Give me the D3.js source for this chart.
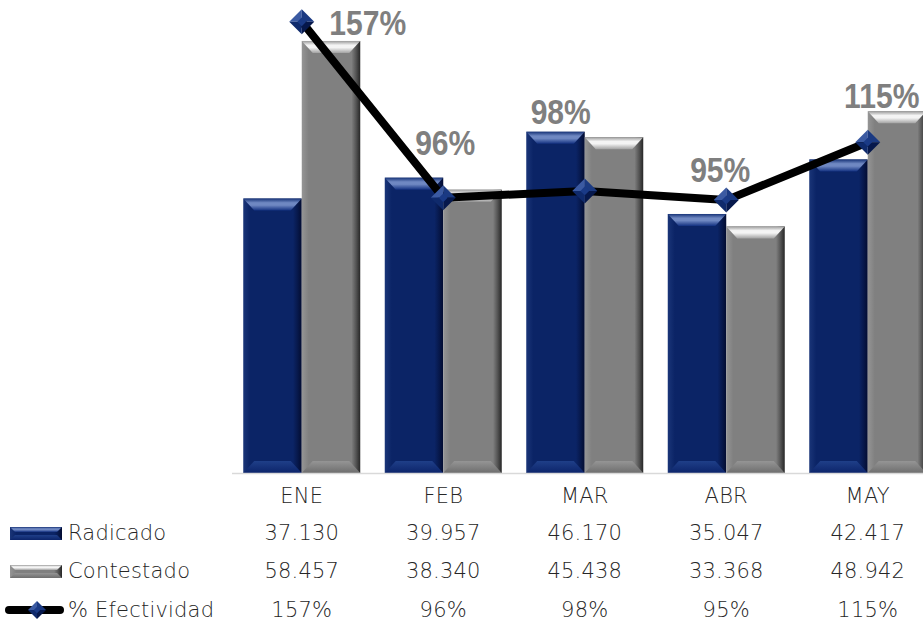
<!DOCTYPE html>
<html>

<head>
  <title>Radicado vs Contestado</title>
  <script src="https://d3js.org/d3.v7.min.js"></script>

  <style>
    body {
      margin: 0;
      background-color: white;
      overflow: hidden;
    }

    .table-text {
      font-family: "DejaVu Sans", "Open Sans", sans-serif;
      font-weight: 200;
      font-size: 21px;
      letter-spacing: 0.2px;
      fill: #262626;
    }

    .pct-label {
      font-family: "Liberation Sans", Arial, sans-serif;
      font-weight: bold;
      font-size: 35px;
      fill: #7f7f7f;
    }
  </style>
</head>

<body>
  <svg id="chart" width="923" height="623"></svg>

  <script>
    // ----------- DATA -----------------------------------
    const months = ["ENE", "FEB", "MAR", "ABR", "MAY"];
    const radicado = [37130, 39957, 46170, 35047, 42417];
    const contestado = [58457, 38340, 45438, 33368, 48942];
    const efectividad = [1.574, 0.960, 0.984, 0.952, 1.154];
    const seriesNames = ["Radicado", "Contestado", "% Efectividad"];

    // where the % labels were dragged to, relative to each marker
    const labelNudge = [[66, 13], [2, -43], [-24, -67], [-6, -18], [14, -34]];

    // ----------- SETUP -----------------------------------
    const svg = d3.select("#chart");
    const defs = svg.append("defs");

    const baseline = 473;
    const x = d3.scaleBand().domain(months).range([231, 938.5]);
    const xSeries = d3.scaleBand().domain(["Radicado", "Contestado"])
      .range([(x.bandwidth() - 117) / 2, (x.bandwidth() + 117) / 2]);
    const y = d3.scaleLinear().domain([0, 64000]).range([baseline, 0]);
    const y2 = d3.scaleLinear().domain([0, 1.65]).range([baseline, 0]);

    const esNum = d3.formatLocale({ decimal: ",", thousands: ".", grouping: [3], currency: ["$", ""] });
    const fmtNum = esNum.format(",d");
    const fmtPct = d3.format(".0%");

    // bevel colours per series
    const palettes = {
      Radicado: {
        left: "#1a3578", base: "#0b2466", right: "#030c30",
        topOut: "#183478", topHi: "#6f88c2", topIn: "#123080",
        botIn: "#1f3f88", botOut: "#0c246a"
      },
      Contestado: {
        left: "#959595", base: "#808080", right: "#262626",
        topOut: "#9a9a9a", topHi: "#f4f4f4", topIn: "#a2a2a2",
        botIn: "#959595", botOut: "#6e6e6e"
      }
    };

    function makeGradients(key, p) {
      const body = defs.append("linearGradient").attr("id", "body-" + key)
        .attr("x1", "0").attr("x2", "1").attr("y1", "0").attr("y2", "0");
      [[0, p.left], [0.12, p.base], [0.85, p.base], [0.93, d3.interpolate(p.base, p.right)(0.5)], [1, p.right]]
        .forEach(s => body.append("stop").attr("offset", s[0]).attr("stop-color", s[1]));

      const top = defs.append("linearGradient").attr("id", "top-" + key)
        .attr("x1", "0").attr("x2", "0").attr("y1", "0").attr("y2", "1");
      [[0, p.topOut], [0.35, p.topHi], [0.55, p.topHi], [1, p.topIn]]
        .forEach(s => top.append("stop").attr("offset", s[0]).attr("stop-color", s[1]));

      const bot = defs.append("linearGradient").attr("id", "bot-" + key)
        .attr("x1", "0").attr("x2", "0").attr("y1", "0").attr("y2", "1");
      [[0, p.botIn], [1, p.botOut]]
        .forEach(s => bot.append("stop").attr("offset", s[0]).attr("stop-color", s[1]));
    }
    Object.keys(palettes).forEach(k => makeGradients(k, palettes[k]));

    function bevelBar(g, key, bx, by, w, h, bevX, bevY) {
      const ex = Math.min(bevX, w / 2);
      const ey = Math.min(bevY, h / 2);
      g.append("rect")
        .attr("x", bx).attr("y", by).attr("width", w).attr("height", h)
        .attr("fill", `url(#body-${key})`);
      g.append("polygon")
        .attr("points", [[bx, by], [bx + w, by], [bx + w - ex, by + ey], [bx + ex, by + ey]].join(" "))
        .attr("fill", `url(#top-${key})`);
      g.append("polygon")
        .attr("points", [[bx + ex, by + h - ey], [bx + w - ex, by + h - ey], [bx + w, by + h], [bx, by + h]].join(" "))
        .attr("fill", `url(#bot-${key})`);
    }

    function diamond(g, cx, cy, r) {
      const tris = [
        [[cx - r, cy], [cx, cy - r], [cx, cy], "#3b5aa2"],
        [[cx, cy - r], [cx + r, cy], [cx, cy], "#1b3a82"],
        [[cx + r, cy], [cx, cy + r], [cx, cy], "#06184c"],
        [[cx, cy + r], [cx - r, cy], [cx, cy], "#0f2a6c"]
      ];
      tris.forEach(t => {
        g.append("polygon").attr("points", [t[0], t[1], t[2]].join(" ")).attr("fill", t[3]);
      });
      g.append("polygon")
        .attr("points", [[cx - r * 0.35, cy], [cx, cy - r * 0.35], [cx + r * 0.35, cy], [cx, cy + r * 0.35]].join(" "))
        .attr("fill", "#1a3a86");
    }

    // ----------- BARS -----------------------------------
    const barLayer = svg.append("g");
    months.forEach((m, i) => {
      [["Radicado", radicado[i]], ["Contestado", contestado[i]]].forEach(([key, v]) => {
        const bx = x(m) + xSeries(key);
        bevelBar(barLayer, key, bx, y(v), xSeries.bandwidth(), baseline - y(v), 11, 12);
      });
    });

    // category axis line
    svg.append("line")
      .attr("x1", x.range()[0] + 1).attr("x2", 923)
      .attr("y1", baseline + 0.5).attr("y2", baseline + 0.5)
      .attr("stroke", "#d9d9d9").attr("stroke-width", 1.5);

    // ----------- EFECTIVIDAD LINE -----------------------------------
    const pts = months.map((m, i) => [x(m) + x.bandwidth() / 2, y2(efectividad[i])]);

    svg.append("path")
      .attr("d", d3.line()(pts))
      .attr("fill", "none")
      .attr("stroke", "black")
      .attr("stroke-width", 8)
      .attr("stroke-linejoin", "round");

    const markerLayer = svg.append("g");
    pts.forEach(p => diamond(markerLayer, p[0], p[1], 12.5));

    // bold condensed look: squeeze the text horizontally
    svg.append("g").selectAll("text")
      .data(efectividad)
      .join("text")
      .attr("class", "pct-label")
      .attr("text-anchor", "middle")
      .attr("transform", (d, i) =>
        `translate(${pts[i][0] + labelNudge[i][0]},${pts[i][1] + labelNudge[i][1]}) scale(0.86,1)`)
      .text(d => fmtPct(d));

    // ----------- DATA TABLE -----------------------------------
    const rowY = [503, 540, 578, 617];
    const table = svg.append("g");

    table.selectAll(".cat")
      .data(months)
      .join("text")
      .attr("class", "cat table-text")
      .attr("text-anchor", "middle")
      .attr("x", d => x(d) + x.bandwidth() / 2)
      .attr("y", rowY[0])
      .text(d => d);

    [radicado.map(fmtNum), contestado.map(fmtNum), efectividad.map(fmtPct)].forEach((row, r) => {
      table.selectAll(".row" + r)
        .data(row)
        .join("text")
        .attr("class", "row" + r + " table-text")
        .attr("text-anchor", "middle")
        .attr("x", (d, i) => x(months[i]) + x.bandwidth() / 2)
        .attr("y", rowY[r + 1])
        .text(d => d);

      table.append("text")
        .attr("class", "table-text")
        .attr("x", 68)
        .attr("y", rowY[r + 1])
        .text(seriesNames[r]);
    });

    // legend keys
    bevelBar(svg.append("g"), "Radicado", 10, rowY[1] - 13, 52, 13, 5, 5);
    bevelBar(svg.append("g"), "Contestado", 10, rowY[2] - 13, 52, 13, 5, 5);
    svg.append("line")
      .attr("x1", 9).attr("x2", 60)
      .attr("y1", rowY[3] - 7).attr("y2", rowY[3] - 7)
      .attr("stroke", "black").attr("stroke-width", 8)
      .attr("stroke-linecap", "round");
    diamond(svg.append("g"), 37, rowY[3] - 7, 9);
  </script>

</body>

</html>
